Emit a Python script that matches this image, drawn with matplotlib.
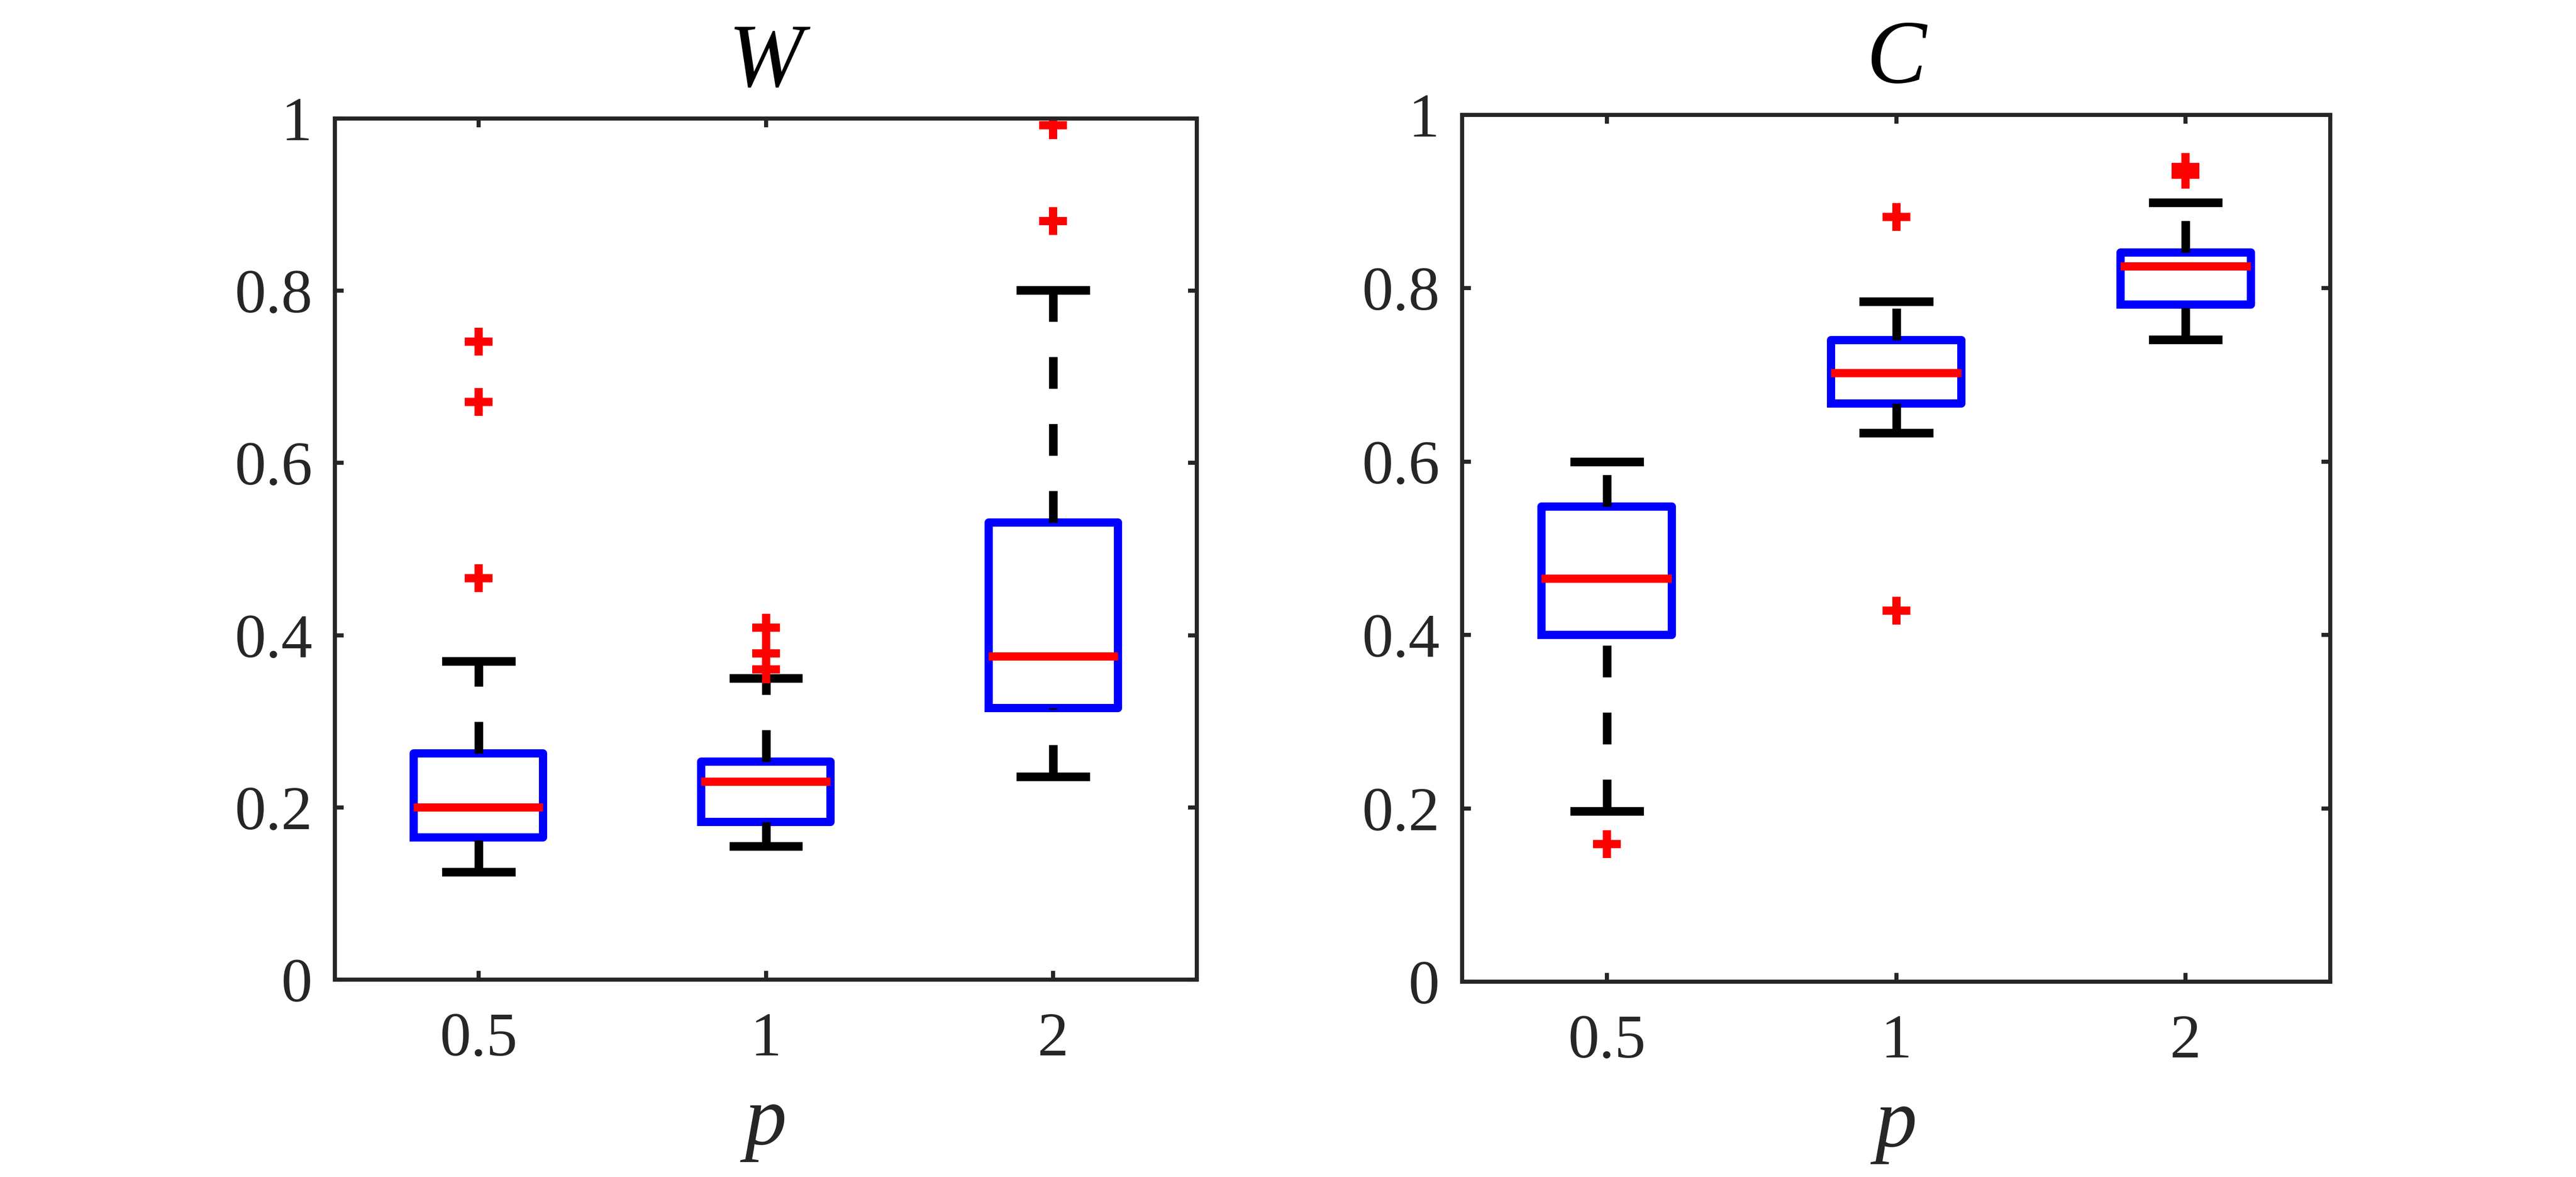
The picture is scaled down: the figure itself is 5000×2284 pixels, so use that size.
import matplotlib
matplotlib.use('Agg')
import matplotlib.pyplot as plt

plt.rcParams['font.family'] = 'serif'
plt.rcParams['font.serif'] = ['Liberation Serif']

# ---------------- data ----------------
positions = [1, 2, 3]
p_labels = ['0.5', '1', '2']
y_ticks = [0, 0.2, 0.4, 0.6, 0.8, 1.0]
y_tick_labels = ['0', '0.2', '0.4', '0.6', '0.8', '1']

# Panel W
W_whislo = [0.125, 0.155, 0.236]
W_q1 = [0.165, 0.183, 0.3155]
W_med = [0.200, 0.230, 0.375]
W_q3 = [0.2625, 0.253, 0.531]
W_whishi = [0.370, 0.350, 0.801]
W_fliers = [[0.741, 0.671, 0.466], [0.409, 0.379, 0.360], [0.992, 0.881]]

# Panel C
C_whislo = [0.197, 0.633, 0.741]
C_q1 = [0.400, 0.667, 0.781]
C_med = [0.465, 0.702, 0.825]
C_q3 = [0.548, 0.740, 0.841]
C_whishi = [0.600, 0.785, 0.899]
C_fliers = [[0.159], [0.882, 0.428], [0.940, 0.931]]

titles = ['W', 'C']
xlabel = 'p'

# ---------------- style ----------------
DPI = 300
FONT = 'Liberation Serif'
fig = plt.figure(figsize=(5000 / DPI, 2284 / DPI), dpi=DPI)

axis_color = '#262626'
LW = 3.84


def make_stats(whislo, q1, med, q3, whishi, fliers):
    stats = []
    for i in range(len(med)):
        stats.append(dict(whislo=whislo[i], q1=q1[i], med=med[i], q3=q3[i],
                          whishi=whishi[i], fliers=fliers[i]))
    return stats


panels = [
    (make_stats(W_whislo, W_q1, W_med, W_q3, W_whishi, W_fliers),
     [650 / 5000, 1 - 1901 / 2284, 1673 / 5000, 1671 / 2284]),
    (make_stats(C_whislo, C_q1, C_med, C_q3, C_whishi, C_fliers),
     [2838 / 5000, 1 - 1905 / 2284, 1685 / 5000, 1682 / 2284]),
]

for (stats, rect), title in zip(panels, titles):
    ax = fig.add_axes(rect)
    bp = ax.bxp(stats, positions=positions, widths=0.45, capwidths=0.225,
                showfliers=True, manage_ticks=False,
                boxprops=dict(color='#0000ff', linewidth=LW),
                medianprops=dict(color='#ff0000', linewidth=LW),
                whiskerprops=dict(color='black', linewidth=4.0,
                                  linestyle=(0, (3.7, 4.1))),
                capprops=dict(color='black', linewidth=4.0),
                flierprops=dict(marker='+', markeredgecolor='#ff0000',
                                markersize=13, markeredgewidth=LW,
                                linestyle='none'))
    # draw lower whiskers upward (cap -> box), as in the reference
    for i, w in enumerate(bp['whiskers']):
        if i % 2 == 0:
            w.set_ydata(list(w.get_ydata())[::-1])

    ax.set_xlim(0.5, 3.5)
    ax.set_ylim(0, 1)
    ax.set_xticks(positions)
    ax.set_xticklabels(p_labels, family=FONT)
    ax.set_yticks(y_ticks)
    ax.set_yticklabels(y_tick_labels, family=FONT)

    for s in ax.spines.values():
        s.set_color(axis_color)
        s.set_linewidth(1.9)

    ax.tick_params(direction='in', length=4, width=1.9, top=True, right=True,
                   labelsize=29, colors=axis_color)
    ax.tick_params(axis='x', pad=15)
    ax.tick_params(axis='y', pad=10.5)

    ax.set_title(title, fontsize=42, fontstyle='italic', color='black',
                 pad=15, family=FONT)
    ax.set_xlabel(xlabel, fontsize=39, fontstyle='italic', color=axis_color,
                  labelpad=8, family=FONT)

fig.savefig('out.png', dpi=DPI)
